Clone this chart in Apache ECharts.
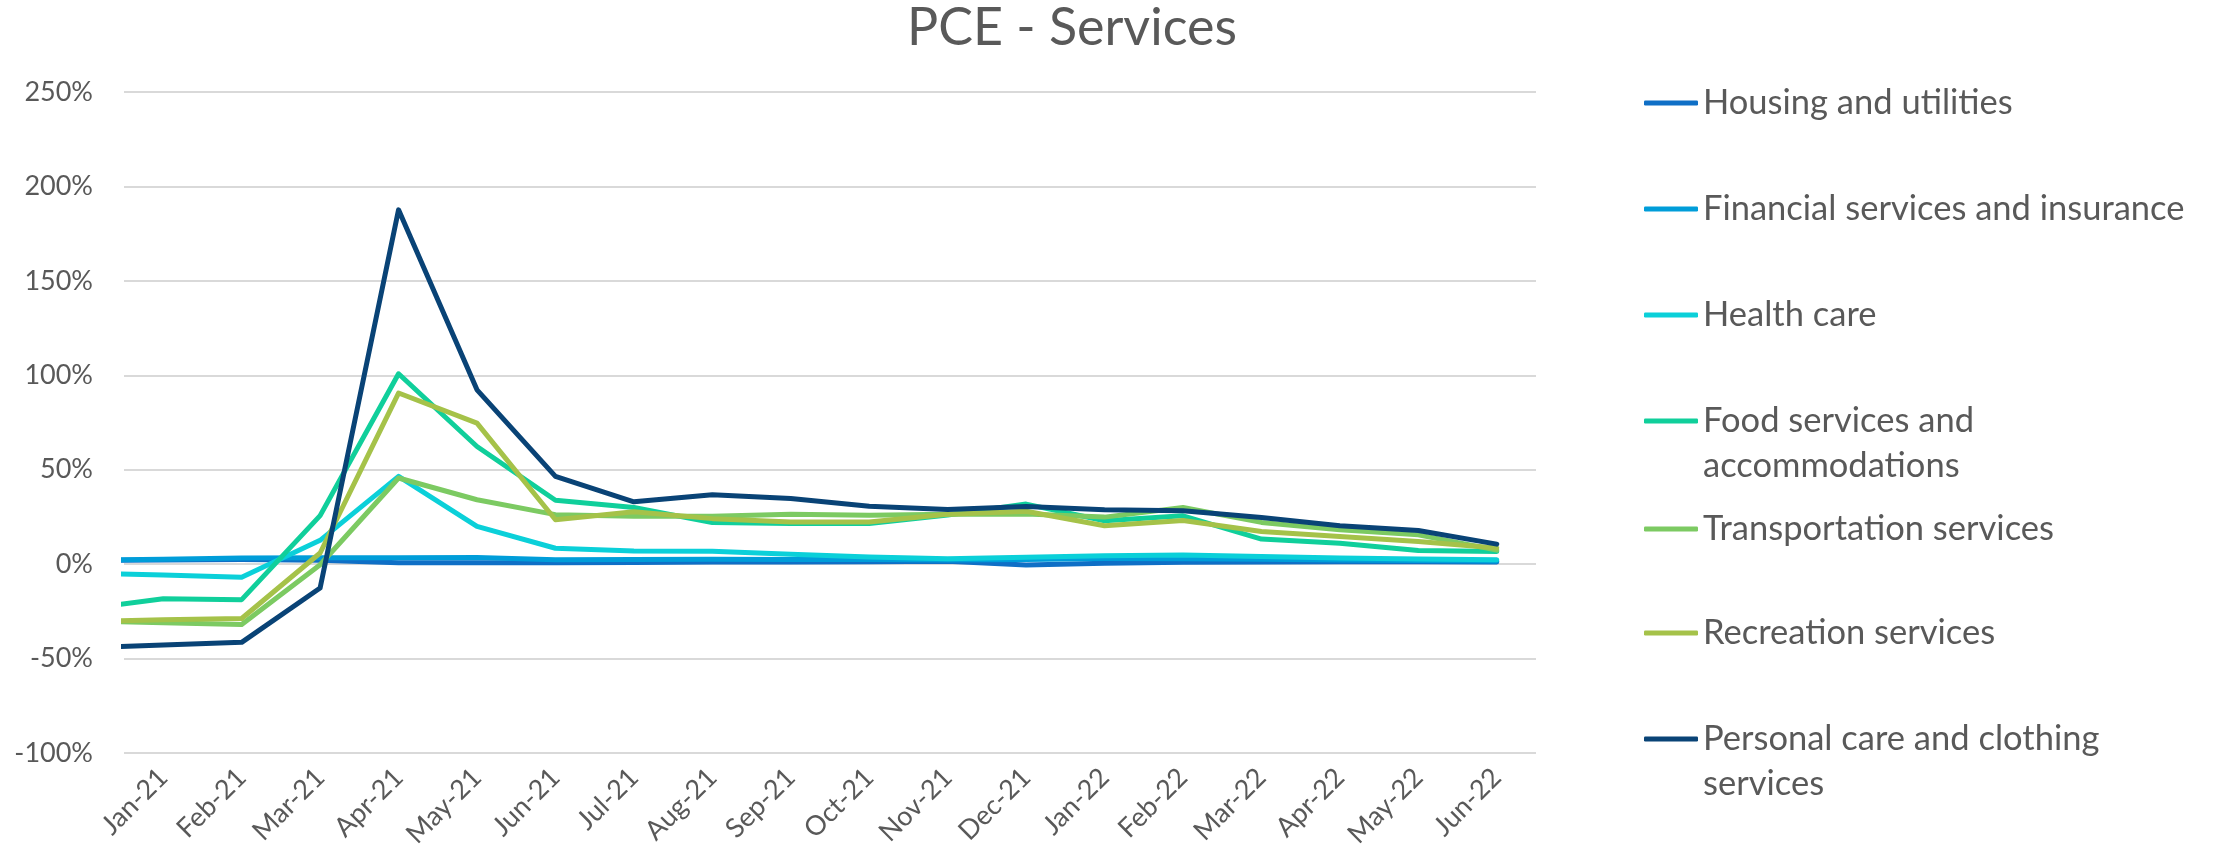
<!DOCTYPE html>
<html>
<head>
<meta charset="utf-8">
<title>PCE - Services</title>
<script src="https://cdn.jsdelivr.net/npm/echarts@6/dist/echarts.min.js"></script>
<style>
  html, body { margin: 0; padding: 0; background: #fff; }
  #main { width: 2216px; height: 865px; }
</style>
</head>
<body>
<div id="main"></div>
<script>
// category labels on the horizontal axis
var months = ['Jan-21', 'Feb-21', 'Mar-21', 'Apr-21', 'May-21', 'Jun-21', 'Jul-21', 'Aug-21', 'Sep-21',
  'Oct-21', 'Nov-21', 'Dec-21', 'Jan-22', 'Feb-22', 'Mar-22', 'Apr-22', 'May-22', 'Jun-22'];

// first value of each series is Dec-20, which sits just outside the left edge (only a stub shows)
var housing    = [2.0, 2.2, 2.5, 2.0, 0.8, 0.7, 0.8, 0.9, 1.2, 1.2, 1.3, 1.5, -0.5, 0.5, 1.0, 1.2, 1.3, 1.3, 1.2];
var financial  = [2.2, 2.6, 3.2, 3.4, 3.4, 3.5, 2.3, 2.5, 2.6, 2.4, 2.4, 2.2, 2.5, 3.0, 2.8, 2.6, 2.2, 1.9, 1.7];
var healthCare = [-4.6, -5.8, -7.0, 12.6, 46.5, 20.0, 8.4, 7.0, 6.8, 5.2, 3.8, 2.8, 3.6, 4.4, 4.9, 4.1, 3.2, 2.7, 2.3];
var food       = [-23.7, -18.3, -18.8, 25.7, 100.8, 62.3, 33.8, 30.0, 22.0, 21.5, 21.5, 26.0, 31.8, 23.0, 25.6, 13.3, 11.1, 7.2, 6.7];
var transport  = [-30.0, -31.0, -32.0, -0.3, 45.6, 34.1, 26.2, 25.4, 25.4, 26.4, 25.9, 26.4, 26.5, 24.9, 30.0, 22.1, 18.2, 15.5, 7.4];
var recreation = [-30.5, -29.5, -28.8, 5.9, 90.6, 74.7, 23.5, 27.7, 24.1, 22.3, 22.3, 26.4, 28.0, 20.3, 23.1, 17.3, 14.7, 12.0, 8.6];
var personal   = [-44.2, -42.8, -41.4, -12.6, 187.6, 92.3, 46.5, 33.0, 36.8, 34.8, 30.7, 28.9, 30.5, 28.8, 28.3, 24.7, 20.3, 17.8, 10.6];

var seriesNames = ['Housing and utilities', 'Financial services and insurance', 'Health care',
  'Food services and accommodations', 'Transportation services', 'Recreation services',
  'Personal care and clothing services'];
var seriesValues = [housing, financial, healthCare, food, transport, recreation, personal];

// value axis ticks (percent)
var yTicks = [-100, -50, 0, 50, 100, 150, 200, 250];

// styling
var colors = ['#0F6FC6', '#009DD9', '#0BD0D9', '#10CF9B', '#7CCA62', '#A5C249', '#094376'];
var textColor = '#595959';
var font = 'Lato';
// legend rows: vertical centre of each icon, and where the label wraps
var legendCenters = [103, 209, 315, 421, 529, 633, 739];
var legendWrap = {
  'Food services and accommodations': 'Food services and\naccommodations',
  'Personal care and clothing services': 'Personal care and clothing\nservices'
};
var legendLine = 45;

var myChart = echarts.init(document.getElementById('main'));

var legends = seriesNames.map(function (name, i) {
  var wrapped = legendWrap[name] !== undefined;
  return {
    data: [name],
    left: 1644,
    top: legendCenters[i] - (wrapped ? legendLine * 1.5 : legendLine / 2),
    padding: 0,
    icon: 'roundRect',
    itemWidth: 54,
    itemHeight: 5,
    selectedMode: false,
    // wrapped labels get an empty first line so the icon lines up with the first real line
    formatter: function (n) { return legendWrap[n] ? ' \n' + legendWrap[n] : n; },
    textStyle: {
      fontFamily: font,
      fontSize: 34.5,
      color: textColor,
      lineHeight: legendLine
    }
  };
});

var series = seriesNames.map(function (name, i) {
  return {
    type: 'line',
    name: name,
    xAxisIndex: 1,
    yAxisIndex: 0,
    data: seriesValues[i].map(function (v, k) { return [k - 1, v]; }),
    showSymbol: false,
    symbol: 'none',
    clip: true,
    color: colors[i],
    lineStyle: {
      width: 5,
      color: colors[i],
      cap: 'round',
      join: 'round'
    },
    emphasis: { disabled: true }
  };
});

var option = {
  backgroundColor: '#fff',
  animation: false,
  title: {
    text: 'PCE - Services',
    left: 907,
    top: 2,
    padding: 0,
    textStyle: {
      fontFamily: font,
      fontSize: 52,
      fontWeight: 'normal',
      color: textColor
    }
  },
  legend: legends,
  grid: {
    left: 124,
    right: 680,
    top: 92,
    bottom: 112,
    containLabel: false
  },
  xAxis: [{
    type: 'category',
    data: months,
    boundaryGap: true,
    axisLine: { show: false },
    axisTick: { show: false },
    splitLine: { show: false },
    axisLabel: {
      interval: 0,
      rotate: 45,
      margin: 20,
      fontFamily: font,
      fontSize: 27,
      color: textColor
    }
  }, {
    // hidden numeric twin of the category axis, so the Dec-20 stub can be clipped
    type: 'value',
    show: false,
    min: -0.5,
    max: months.length - 0.5
  }],
  yAxis: {
    type: 'value',
    min: yTicks[0],
    max: yTicks[yTicks.length - 1],
    interval: yTicks[1] - yTicks[0],
    axisLine: { show: false },
    axisTick: { show: false },
    splitLine: { lineStyle: { color: '#D9D9D9', width: 2 } },
    axisLabel: {
      margin: 31,
      fontFamily: font,
      fontSize: 27,
      color: textColor,
      formatter: '{value}%'
    }
  },
  series: series
};

myChart.setOption(option);
</script>
</body>
</html>
